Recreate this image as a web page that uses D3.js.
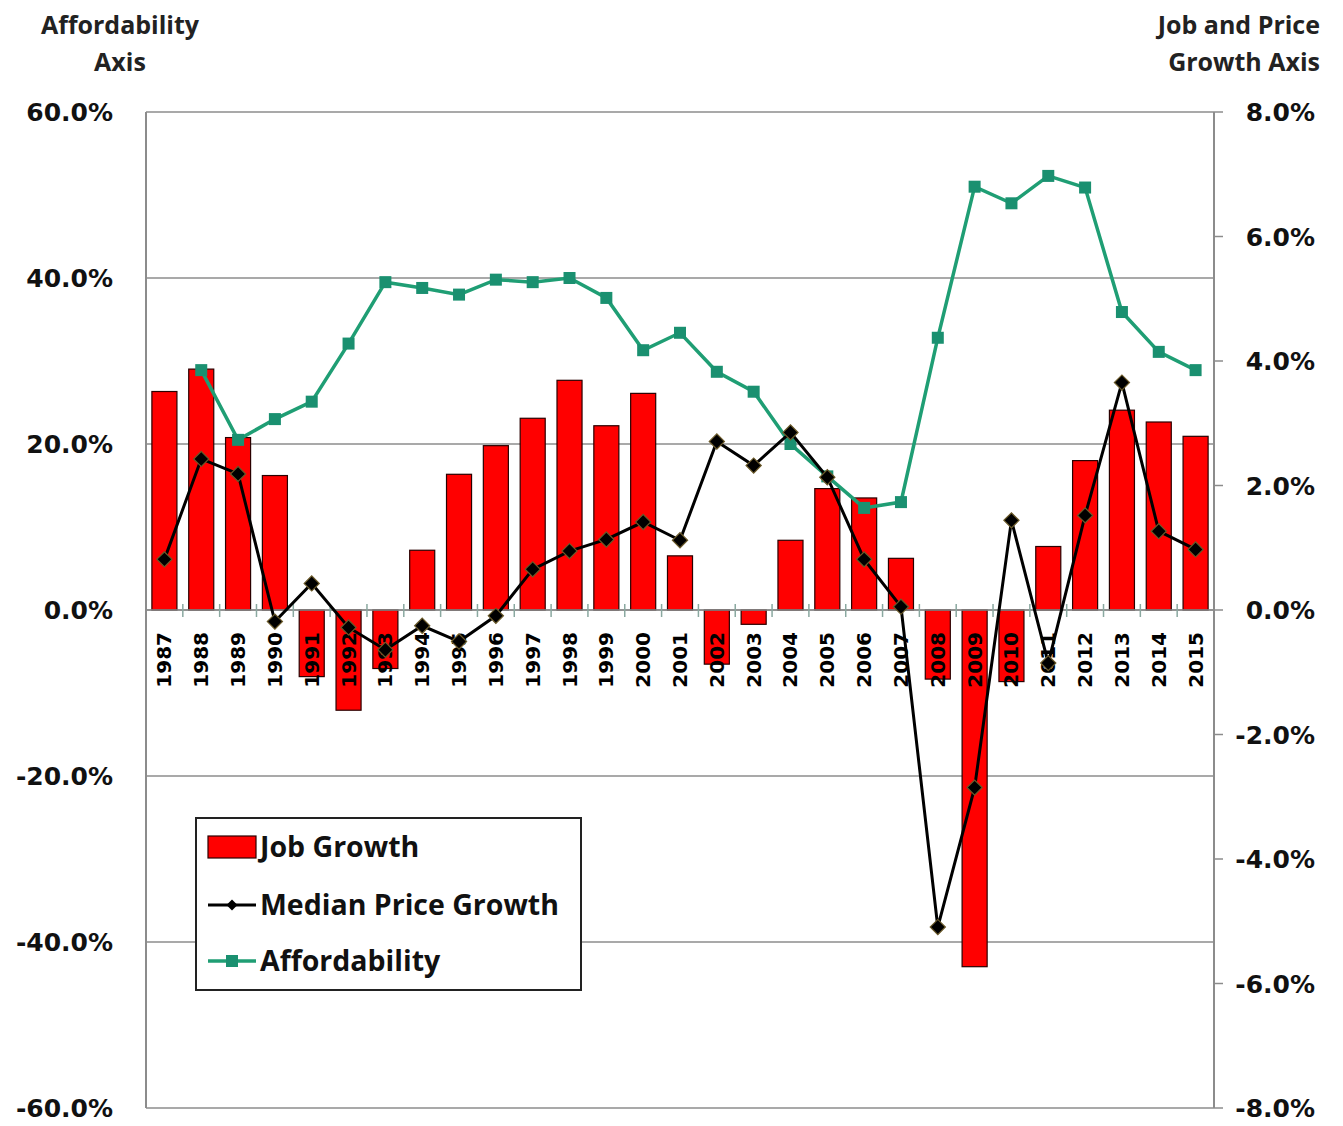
<!DOCTYPE html>
<html>
<head>
<meta charset="utf-8">
<script src="https://cdn.jsdelivr.net/npm/d3@7"></script>
<style>
  html, body { margin: 0; padding: 0; background: #fff; }
  svg { display: block; }
</style>
</head>
<body>
<svg id="chart" width="1343" height="1126"></svg>
<script>
// Years on the category axis
const years = ["1987","1988","1989","1990","1991","1992","1993","1994","1995","1996",
  "1997","1998","1999","2000","2001","2002","2003","2004","2005","2006",
  "2007","2008","2009","2010","2011","2012","2013","2014","2015"];

// Job growth, % (right axis)
const jobGrowth = [3.51, 3.87, 2.77, 2.16, -1.07, -1.61, -0.94, 0.96, 2.18, 2.64,
  3.08, 3.69, 2.96, 3.48, 0.87, -0.87, -0.23, 1.12, 1.95, 1.80,
  0.83, -1.11, -5.73, -1.15, 1.02, 2.40, 3.21, 3.02, 2.79];

// Median price growth, % (left axis)
const priceGrowth = [6.1, 18.2, 16.4, -1.4, 3.2, -2.1, -4.8, -1.9, -3.8, -0.7,
  4.9, 7.1, 8.5, 10.6, 8.4, 20.3, 17.4, 21.4, 16.0, 6.1,
  0.4, -38.2, -21.4, 10.8, -6.4, 11.4, 27.4, 9.5, 7.3];

// Affordability, % (left axis); no value for 1987
const affordability = [null, 28.9, 20.5, 23.0, 25.1, 32.1, 39.5, 38.8, 38.0, 39.8,
  39.5, 40.0, 37.6, 31.3, 33.4, 28.7, 26.3, 20.0, 16.1, 12.3,
  13.0, 32.8, 51.0, 49.0, 52.3, 50.9, 35.9, 31.1, 28.9];

const leftTicks = [60, 40, 20, 0, -20, -40, -60];
const rightTicks = [8, 6, 4, 2, 0, -2, -4, -6, -8];

const svg = d3.select("#chart");
const plot = { left: 146, right: 1214, top: 112, bottom: 1108 };

const x = d3.scaleBand().domain(years).range([plot.left, plot.right]).paddingInner(0.32).paddingOuter(0.16);
const xCat = d3.scaleBand().domain(years).range([plot.left, plot.right]);
const yL = d3.scaleLinear().domain([-60, 60]).range([plot.bottom, plot.top]);
const yR = d3.scaleLinear().domain([-8, 8]).range([plot.bottom, plot.top]);

const gridColor = "#8c8c8c";
const green = "#1f9e74";
const pct = d => d3.format(".1f")(d).replace("\u2212", "-") + "%";

// Horizontal gridlines from the left axis
svg.append("g").selectAll("line").data(leftTicks).join("line")
  .attr("x1", plot.left).attr("x2", plot.right)
  .attr("y1", d => yL(d)).attr("y2", d => yL(d))
  .attr("stroke", gridColor).attr("stroke-width", 1.5);

// Plot frame sides
svg.append("line").attr("x1", plot.left).attr("x2", plot.left)
  .attr("y1", plot.top).attr("y2", plot.bottom).attr("stroke", gridColor).attr("stroke-width", 2);
svg.append("line").attr("x1", plot.right).attr("x2", plot.right)
  .attr("y1", plot.top).attr("y2", plot.bottom).attr("stroke", gridColor).attr("stroke-width", 2);

// Left axis labels
svg.append("g").selectAll("text").data(leftTicks).join("text")
  .attr("x", 113).attr("y", d => yL(d)).attr("dy", "0.36em")
  .attr("text-anchor", "end")
  .attr("font-family", "DejaVu Sans").attr("font-weight", "bold").attr("font-size", 25)
  .attr("fill", "#111")
  .text(pct);

// Right axis ticks and labels
svg.append("g").selectAll("line").data(rightTicks).join("line")
  .attr("x1", plot.right).attr("x2", plot.right + 9)
  .attr("y1", d => yR(d)).attr("y2", d => yR(d))
  .attr("stroke", gridColor).attr("stroke-width", 1.5);
svg.append("g").selectAll("text").data(rightTicks).join("text")
  .attr("x", 1315).attr("y", d => yR(d)).attr("dy", "0.36em")
  .attr("text-anchor", "end")
  .attr("font-family", "DejaVu Sans").attr("font-weight", "bold").attr("font-size", 25)
  .attr("fill", "#111")
  .text(pct);

// Axis titles
function axisTitle(lines, cx, anchor) {
  const t = svg.append("text")
    .attr("font-family", "Open Sans").attr("font-weight", "bold")
    .attr("font-size", 25).attr("fill", "#222")
    .attr("text-anchor", anchor);
  lines.forEach((s, i) => {
    t.append("tspan").attr("x", cx).attr("y", 34 + i * 37).text(s);
  });
}
axisTitle(["Affordability", "Axis"], 120, "middle");
axisTitle(["Job and Price", "Growth Axis"], 1320, "end");

// Job growth bars
svg.append("g").selectAll("rect").data(years).join("rect")
  .attr("x", d => x(d))
  .attr("width", x.bandwidth())
  .attr("y", (d, i) => Math.min(yR(jobGrowth[i]), yR(0)))
  .attr("height", (d, i) => Math.abs(yR(jobGrowth[i]) - yR(0)))
  .attr("fill", "#ff0000").attr("stroke", "#2a0000").attr("stroke-width", 1.2);

// Zero line with category ticks
svg.append("line").attr("x1", plot.left).attr("x2", plot.right)
  .attr("y1", yL(0)).attr("y2", yL(0)).attr("stroke", gridColor).attr("stroke-width", 1.5);
svg.append("g").selectAll("line").data(years.slice(1)).join("line")
  .attr("x1", d => xCat(d)).attr("x2", d => xCat(d))
  .attr("y1", yL(0) - 6).attr("y2", yL(0) + 7)
  .attr("stroke", "#8aa8a0").attr("stroke-width", 1.5);

// Year labels, rotated
svg.append("g").selectAll("text").data(years).join("text")
  .attr("transform", d => `translate(${xCat(d) + xCat.bandwidth() / 2 + 7},${yL(0) + 22}) rotate(-90)`)
  .attr("text-anchor", "end")
  .attr("font-family", "DejaVu Sans").attr("font-weight", "bold").attr("font-size", 20)
  .attr("fill", "#000")
  .text(d => d);

const cx = d => xCat(d) + xCat.bandwidth() / 2;

// Affordability line
const affPts = years.map((d, i) => ({ d, v: affordability[i] })).filter(p => p.v !== null);
svg.append("path").datum(affPts)
  .attr("d", d3.line().x(p => cx(p.d)).y(p => yL(p.v)))
  .attr("fill", "none").attr("stroke", green).attr("stroke-width", 3.5);
svg.append("g").selectAll("rect").data(affPts).join("rect")
  .attr("x", p => cx(p.d) - 6).attr("y", p => yL(p.v) - 6)
  .attr("width", 12).attr("height", 12)
  .attr("fill", "#1a9070");

// Median price growth line
const pricePts = years.map((d, i) => ({ d, v: priceGrowth[i] }));
svg.append("path").datum(pricePts)
  .attr("d", d3.line().x(p => cx(p.d)).y(p => yL(p.v)))
  .attr("fill", "none").attr("stroke", "#000").attr("stroke-width", 3);
svg.append("g").selectAll("path").data(pricePts).join("path")
  .attr("transform", p => `translate(${cx(p.d)},${yL(p.v)}) rotate(45)`)
  .attr("d", d3.symbol().type(d3.symbolSquare).size(115))
  .attr("fill", "#000").attr("stroke", "#6b5a2a").attr("stroke-width", 1.2);

// Legend
const lg = svg.append("g");
lg.append("rect").attr("x", 196).attr("y", 818).attr("width", 385).attr("height", 172)
  .attr("fill", "#fff").attr("stroke", "#222").attr("stroke-width", 2);
const legendItems = ["Job Growth", "Median Price Growth", "Affordability"];
const legendY = [847, 905, 961];
lg.append("rect").attr("x", 208).attr("y", legendY[0] - 11).attr("width", 48).attr("height", 22)
  .attr("fill", "#ff0000").attr("stroke", "#2a0000").attr("stroke-width", 1.2);
lg.append("line").attr("x1", 208).attr("x2", 256).attr("y1", legendY[1]).attr("y2", legendY[1])
  .attr("stroke", "#000").attr("stroke-width", 3);
lg.append("path").attr("transform", `translate(232,${legendY[1]}) rotate(45)`)
  .attr("d", d3.symbol().type(d3.symbolSquare).size(60)).attr("fill", "#000");
lg.append("line").attr("x1", 208).attr("x2", 256).attr("y1", legendY[2]).attr("y2", legendY[2])
  .attr("stroke", green).attr("stroke-width", 3.5);
lg.append("rect").attr("x", 226).attr("y", legendY[2] - 6).attr("width", 12).attr("height", 12)
  .attr("fill", "#1a9070");
lg.selectAll("text").data(legendItems).join("text")
  .attr("x", 260).attr("y", (d, i) => legendY[i]).attr("dy", "0.36em")
  .attr("font-family", "Open Sans").attr("font-weight", "bold").attr("font-size", 28.5)
  .attr("fill", "#111")
  .text(d => d);
</script>
</body>
</html>
